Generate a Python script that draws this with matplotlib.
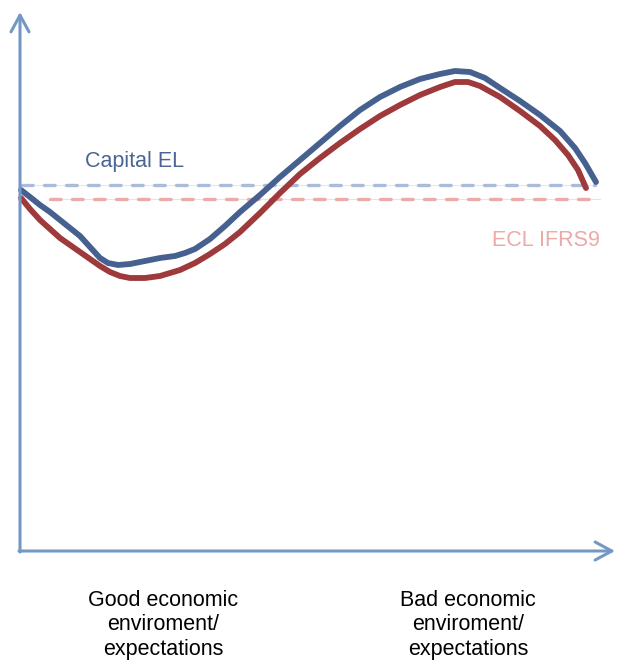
import matplotlib.pyplot as plt

# curves (x = economic condition, y = loss level)
capital_x = [1, 10, 20, 30, 40, 50, 60, 70, 80, 88, 98, 110, 125, 140, 155, 165, 175,
             190, 205, 220, 240, 260, 280, 300, 320, 340, 360, 380, 400, 420, 435, 450,
             465, 480, 500, 520, 540, 555, 565, 576]
capital_y = [361, 354, 346, 339, 331, 323, 315, 304, 293, 288, 286, 287, 290, 293, 295,
             298, 302, 312, 325, 339, 356, 374, 391, 408, 425, 441, 454, 464, 472, 477,
             480, 479, 473, 463, 450, 436, 420, 403, 388, 369]
ecl_x = [1, 10, 20, 30, 40, 50, 60, 70, 80, 90, 100, 110, 125, 140, 150, 160, 175, 190,
         205, 220, 240, 260, 280, 300, 320, 340, 360, 380, 400, 420, 435, 448, 460, 480,
         500, 520, 535, 548, 558, 566]
ecl_y = [353, 342, 331, 322, 313, 306, 299, 292, 285, 279, 275, 273, 273, 275, 278, 281,
         288, 297, 307, 319, 338, 358, 377, 393, 408, 422, 435, 446, 456, 464, 469, 469,
         465, 454, 440, 425, 411, 396, 381, 363]

capital_level = 366
ecl_level = 352

blue = "#46618f"
red = "#9e3a3b"
axis_col = "#7398c6"

fig = plt.figure(figsize=(6.18, 6.64), dpi=100)
ax = fig.add_axes([0, 0, 1, 1])
ax.set_xlim(-20, 598)
ax.set_ylim(-113, 551)
ax.axis("off")

# axes with arrows
arrow = dict(arrowstyle="->,head_length=1.2,head_width=0.65", color=axis_col, lw=2.2,
             shrinkA=0, shrinkB=0)
ax.annotate("", xy=(0, 539), xytext=(0, -1), arrowprops=arrow)
ax.annotate("", xy=(595, 0), xytext=(-1, 0), arrowprops=arrow)

# dashed reference levels (faint hairline behind the dashes)
ax.plot([2, 575], [capital_level] * 2, color="#e3e9f2", lw=0.8)
ax.plot([2, 575], [capital_level] * 2, color="#a9bcdb", lw=2.4, ls=(0, (3.2, 3.4)),
        dash_capstyle="round")
ax.plot([30, 580], [ecl_level] * 2, color="#f3dede", lw=0.8)
ax.plot([30, 580], [ecl_level] * 2, color="#eaabab", lw=2.4, ls=(0, (3.2, 3.4)),
        dash_capstyle="round")

ax.plot(ecl_x, ecl_y, color=red, lw=4.2, solid_capstyle="round", solid_joinstyle="round")
ax.plot(capital_x, capital_y, color=blue, lw=4.2, solid_capstyle="round",
        solid_joinstyle="round")

font = "Liberation Sans"
ax.text(115, 389, "Capital EL", color="#4a6595", fontsize=15.5, family=font,
        ha="center", va="center")
ax.text(580, 311, "ECL IFRS9", color="#eba9a9", fontsize=15.5, family=font,
        ha="right", va="center")

ax.text(143, -74, "Good economic\nenviroment/\nexpectations", color="black",
        fontsize=15.5, family=font, ha="center", va="center", linespacing=1.25)
ax.text(448, -74, "Bad economic\nenviroment/\nexpectations", color="black",
        fontsize=15.5, family=font, ha="center", va="center", linespacing=1.25)

fig.savefig("out.png", dpi=100)
